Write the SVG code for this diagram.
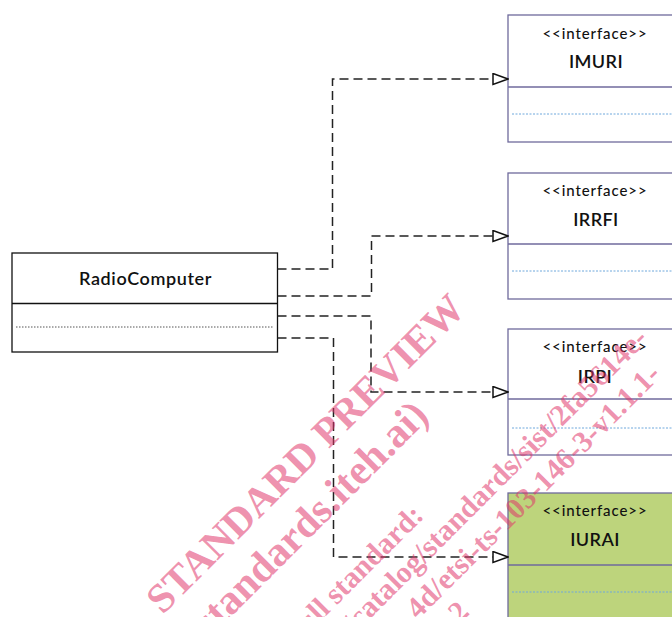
<svg xmlns="http://www.w3.org/2000/svg" width="672" height="617" viewBox="0 0 672 617">
<defs>
<style>
.box{fill:#fff;stroke:#6f6a9c;stroke-width:1.3}
.green{fill:#bdd47c}
.div{stroke:#6f6a9c;stroke-width:1.3}
.dot{stroke:#6fa8dc;stroke-width:1;stroke-dasharray:2,1.5}
.st{font-family:Lato,"Liberation Sans",sans-serif;font-size:15px;font-weight:500;fill:#111;text-anchor:middle;letter-spacing:0.9px}
.nm{font-family:Lato,"Liberation Sans",sans-serif;font-size:18px;font-weight:600;fill:#111;text-anchor:middle;letter-spacing:0.4px}
.cls{fill:#fff;stroke:#111;stroke-width:1.3}
.conn{fill:none;stroke:#222;stroke-width:1.5;stroke-dasharray:9,5}
.wm{font-family:"Liberation Serif",serif;font-weight:bold;fill:#e0356a;fill-opacity:0.55}
</style>
<marker id="tri" viewBox="0 0 17 13" refX="16" refY="6.5" markerWidth="17" markerHeight="13" markerUnits="userSpaceOnUse" orient="auto">
<path d="M1,1 L16,6.5 L1,12 Z" fill="#fff" stroke="#111" stroke-width="1.5"/>
</marker>
</defs>
<rect width="672" height="617" fill="#fff"/>

<g id="RadioComputer">
<rect class="cls" x="12" y="253" width="265.5" height="99"/>
<line x1="12" y1="303.5" x2="277.5" y2="303.5" stroke="#111" stroke-width="1.3"/>
<line x1="16" y1="327" x2="273" y2="327" stroke="#555" stroke-width="1" stroke-dasharray="1.5,1.5"/>
<text class="nm" x="145.5" y="284.5" style="letter-spacing:0.6px">RadioComputer</text>
</g>

<g id="IMURI">
<rect class="box" x="508" y="15" width="220" height="127"/>
<line class="div" x1="508" y1="87" x2="728" y2="87"/>
<line class="dot" x1="512" y1="114" x2="672" y2="114"/>
<text class="st" x="595" y="39">&lt;&lt;interface&gt;&gt;</text>
<text class="nm" x="596" y="68">IMURI</text>
</g>

<g id="IRRFI">
<rect class="box" x="508" y="173" width="220" height="126"/>
<line class="div" x1="508" y1="244" x2="728" y2="244"/>
<line class="dot" x1="512" y1="271" x2="672" y2="271"/>
<text class="st" x="595" y="196">&lt;&lt;interface&gt;&gt;</text>
<text class="nm" x="596" y="226">IRRFI</text>
</g>

<g id="IRPI">
<rect class="box" x="508" y="329" width="220" height="126"/>
<line class="div" x1="508" y1="399" x2="728" y2="399"/>
<line class="dot" x1="512" y1="428" x2="672" y2="428"/>
<text class="st" x="595" y="352">&lt;&lt;interface&gt;&gt;</text>
<text class="nm" x="595" y="382.5">IRPI</text>
</g>

<g id="IURAI">
<rect class="box green" x="508" y="493" width="220" height="140"/>
<line class="div" x1="508" y1="565" x2="728" y2="565"/>
<line class="dot" x1="512" y1="592" x2="672" y2="592"/>
<text class="st" x="595" y="516">&lt;&lt;interface&gt;&gt;</text>
<text class="nm" x="595" y="546">IURAI</text>
</g>

<g id="connectors">
<path class="conn" d="M277.5,269 H332.5 V79 H508" marker-end="url(#tri)"/>
<path class="conn" d="M277.5,296 H371.5 V236 H508" marker-end="url(#tri)"/>
<path class="conn" d="M277.5,316 H371 V392 H508" marker-end="url(#tri)"/>
<path class="conn" d="M277.5,338 H333.5 V557 H508" marker-end="url(#tri)"/>
</g>

<g id="watermark">
<text class="wm" font-size="41" text-anchor="middle" transform="translate(315,463) rotate(-45)">STANDARD PREVIEW</text>
<text class="wm" font-size="42" text-anchor="end" transform="translate(430.5,417.5) rotate(-45)">(standards.iteh.ai)</text>
<text class="wm" font-size="30" text-anchor="end" transform="translate(425,517) rotate(-45)">Full standard:</text>
<text class="wm" font-size="30" text-anchor="end" transform="translate(649,340) rotate(-45)">https://standards.iteh.ai/catalog/standards/sist/2fa5614e-</text>
<text class="wm" font-size="30" text-anchor="end" transform="translate(662,376) rotate(-45)">4d/etsi-ts-103-146-3-v1.1.1-</text>
<text class="wm" font-size="30" transform="translate(460,624) rotate(-45)">2</text>
</g>
</svg>
